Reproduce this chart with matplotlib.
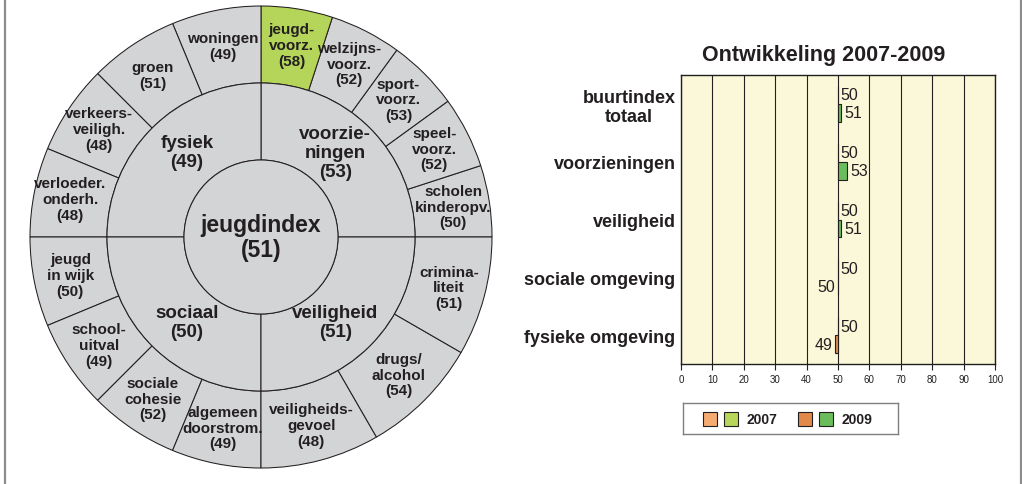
import numpy as np
import matplotlib
matplotlib.use('Agg')
import matplotlib.pyplot as plt
from matplotlib.patches import Rectangle
from matplotlib.lines import Line2D

plt.rcParams['font.family'] = ['Liberation Sans', 'DejaVu Sans']

# jeugdindex wheel
index_label = 'jeugdindex'
index_score = 51
domains = ['voorzie-\nningen', 'fysiek', 'sociaal', 'veiligheid']
domain_scores = [53, 49, 50, 51]
# items per domain, counter-clockwise starting at 3 o'clock
voorz_items = ['scholen\nkinderopv.', 'speel-\nvoorz.', 'sport-\nvoorz.', 'welzijns-\nvoorz.', 'jeugd-\nvoorz.']
voorz_scores = [50, 52, 53, 52, 58]
fysiek_items = ['woningen', 'groen', 'verkeers-\nveiligh.', 'verloeder.\nonderh.']
fysiek_scores = [49, 51, 48, 48]
sociaal_items = ['jeugd\nin wijk', 'school-\nuitval', 'sociale\ncohesie', 'algemeen\ndoorstrom.']
sociaal_scores = [50, 49, 52, 49]
veilig_items = ['veiligheids-\ngevoel', 'drugs/\nalcohol', 'crimina-\nliteit']
veilig_scores = [48, 54, 51]

# ontwikkeling 2007-2009
categories = ['buurtindex\ntotaal', 'voorzieningen', 'veiligheid', 'sociale omgeving', 'fysieke omgeving']
score_2007 = [50, 50, 50, 50, 50]
score_2009 = [51, 53, 51, 50, 49]
years = ['2007', '2009']

ink = '#231f20'
grey = '#d3d4d6'
green_hi = '#b5d55a'
base = 50
cols_2007 = ('#f6ab70', '#b8d75a')   # down, up
cols_2009 = ('#e0894a', '#6abd5a')

W, H = 1022, 485
fig = plt.figure(figsize=(W / 100, H / 100), dpi=100)

# ---------- wheel ----------
cx, cy, half = 261, 238, 240
ax = fig.add_axes([(cx - half) / W, (H - cy - half) / H, 2 * half / W, 2 * half / H])
r_out, r_mid, r_in = 231, 154, 77

groups = [(voorz_items, voorz_scores), (fysiek_items, fysiek_scores),
          (sociaal_items, sociaal_scores), (veilig_items, veilig_scores)]
outer_lbl, outer_val, outer_w = [], [], []
for items, scores in groups:
    for it, sc in zip(items, scores):
        outer_lbl.append(it)
        outer_val.append(sc)
        outer_w.append(1.0 / len(items))
outer_cols = [green_hi if v >= 55 else grey for v in outer_val]

wedges, _ = ax.pie(outer_w, radius=r_out, startangle=0, counterclock=True, colors=outer_cols,
                   wedgeprops=dict(width=r_out - r_mid, edgecolor=ink, linewidth=0.75))
for w, lbl, v in zip(wedges, outer_lbl, outer_val):
    a = np.deg2rad((w.theta1 + w.theta2) / 2)
    r = (r_out + r_mid) / 2 + 2
    ax.text(r * np.cos(a), r * np.sin(a), '%s\n(%d)' % (lbl, v), ha='center', va='center',
            fontsize=11, fontweight='bold', color=ink, linespacing=1.15)

mid_wedges, _ = ax.pie([1] * len(domains), radius=r_mid, startangle=0, counterclock=True,
                       colors=[grey] * len(domains),
                       wedgeprops=dict(width=r_mid - r_in, edgecolor=ink, linewidth=0.75))
for w, lbl, v in zip(mid_wedges, domains, domain_scores):
    a = np.deg2rad((w.theta1 + w.theta2) / 2)
    ax.text(105 * np.cos(a), 120 * np.sin(a), '%s\n(%d)' % (lbl, v), ha='center', va='center',
            fontsize=13.5, fontweight='bold', color=ink, linespacing=1.15)

ax.add_patch(plt.Circle((0, 0), r_in, facecolor=grey, edgecolor=ink, linewidth=0.75))
ax.text(0, 0, '%s\n(%d)' % (index_label, index_score), ha='center', va='center',
        fontsize=16.5, fontweight='bold', color=ink, linespacing=1.15)
ax.set_xlim(-half, half)
ax.set_ylim(-half, half)
ax.set_aspect('equal')
ax.axis('off')

# ---------- bars ----------
ax2 = fig.add_axes([681 / W, 1 - 365 / H, 314 / W, 289 / H])
ax2.set_facecolor('#faf8d8')
y = np.arange(len(categories))
bh = 0.31
for yrs, vals, cols, off in ((years[0], score_2007, cols_2007, -bh / 2),
                             (years[1], score_2009, cols_2009, bh / 2)):
    diffs = [v - base for v in vals]
    ax2.barh(y + off, diffs, left=base, height=bh, color=[cols[d > 0] for d in diffs],
             edgecolor=ink, linewidth=0.8, zorder=3)
    for yi, v in zip(y + off, vals):
        right = (v > base) or yrs == years[0]
        ax2.annotate(str(v), (v, yi), xytext=(2 if right else -2, 0), textcoords='offset points',
                     ha='left' if right else 'right', va='center', fontsize=11.5, color=ink, zorder=4)

ax2.set_xlim(0, 100)
ax2.set_ylim(len(categories) - 0.5, -0.5)
ax2.set_xticks(range(0, 101, 10))
ax2.set_yticks(y)
ax2.set_yticklabels(categories, fontsize=13, fontweight='bold', color=ink)
for t in ax2.get_yticklabels():
    t.set_multialignment('center')
ax2.tick_params(axis='y', length=0, pad=4)
ax2.tick_params(axis='x', direction='out', length=4, width=0.8, labelsize=7, colors=ink, pad=3)
ax2.set_axisbelow(True)
ax2.xaxis.grid(True, color=ink, linewidth=0.8)
for s in ax2.spines.values():
    s.set_color(ink)
    s.set_linewidth(1.0)
fig.text(824 / W, 1 - 55 / H, 'Ontwikkeling 2007-2009', ha='center', va='center',
         fontsize=15.5, fontweight='bold', color=ink)

# ---------- legend ----------
lg = fig.add_axes([683 / W, 1 - 435 / H, 215 / W, 31 / H])
lg.set_xlim(0, 215)
lg.set_ylim(0, 31)
for x0, yr, cols in ((20, years[0], cols_2007), (115, years[1], cols_2009)):
    for k, c in enumerate(cols):
        lg.add_patch(Rectangle((x0 + k * 21, 8.5), 14, 14, facecolor=c, edgecolor=ink, linewidth=0.8))
    lg.text(x0 + 43, 15.5, yr, ha='left', va='center', fontsize=10, fontweight='bold', color=ink)
lg.set_xticks([])
lg.set_yticks([])
for s in lg.spines.values():
    s.set_color('#7f7f7f')
    s.set_linewidth(1.0)

# outer frame
for xf in (5, 1021):
    fig.add_artist(Line2D([xf / W, xf / W], [0, 1], color='#8c8c8c', linewidth=1.6))

fig.savefig('out.png', dpi=100)
